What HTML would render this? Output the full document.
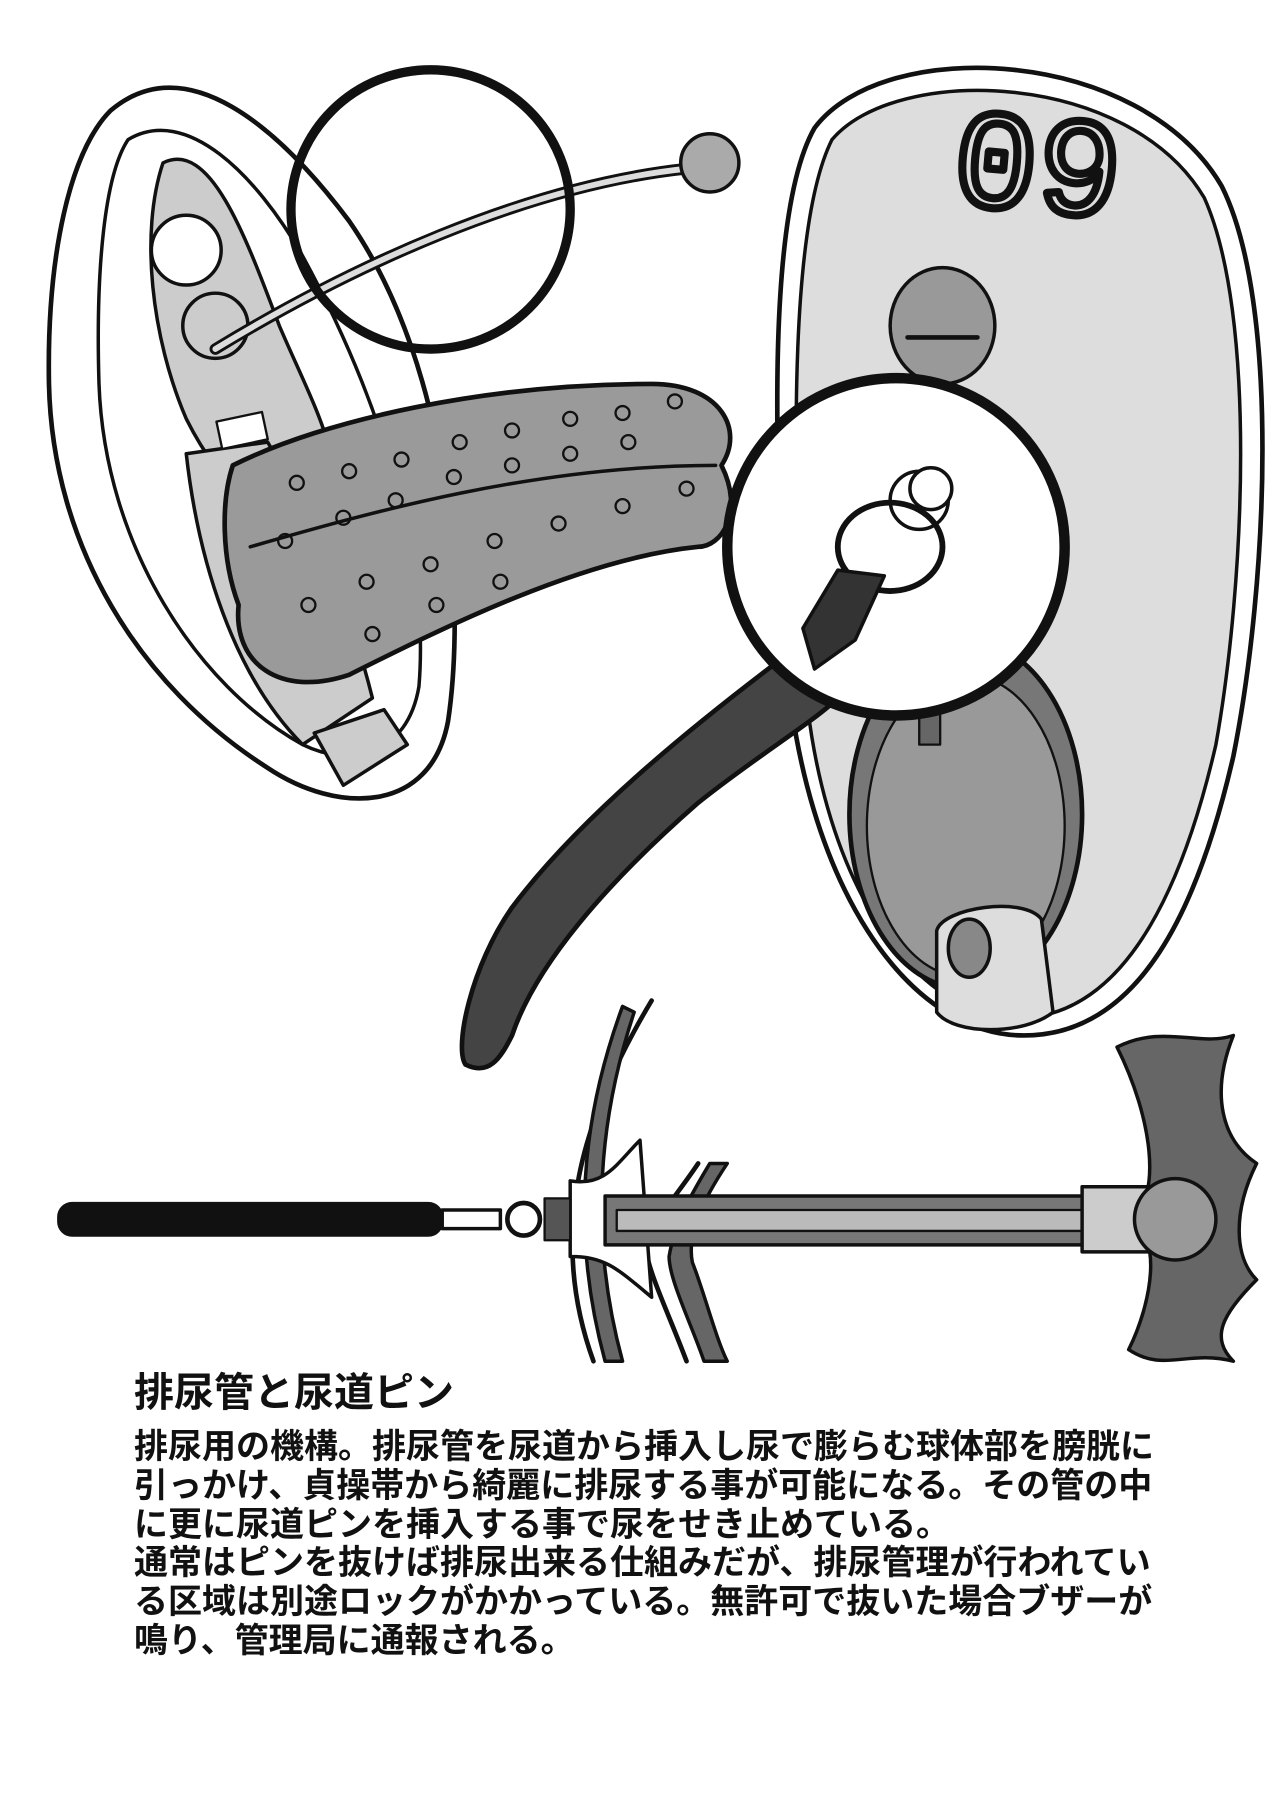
<!DOCTYPE html>
<html><head><meta charset="utf-8"><style>
html,body{margin:0;padding:0;background:#fff;}
body{width:1280px;height:1808px;position:relative;overflow:hidden;}
svg{position:absolute;left:0;top:0;}
.t{position:absolute;left:134px;font-family:"Liberation Sans","Noto Sans CJK JP",sans-serif;font-weight:bold;color:#111;white-space:nowrap;}
.title{top:1360px;font-size:40px;}
.body{top:1428px;font-size:34px;line-height:38.8px;}
</style></head><body>
<svg width="1280" height="1808" viewBox="0 0 1100 1554">
<g stroke="#111" stroke-linejoin="round" stroke-linecap="round">
<path d="M95,95 C160,40 240,110 300,190 C390,320 400,520 385,620 C370,700 290,700 230,660 C120,590 45,470 42,330 C40,220 60,130 95,95 Z" fill="#fff" stroke-width="4"/>
<path d="M110,120 C160,90 220,150 260,220 C320,330 370,470 360,590 C350,650 300,660 260,640 C170,590 90,470 85,330 C82,230 90,150 110,120 Z" fill="#fff" stroke-width="3"/>
<path d="M140,140 C180,120 210,200 240,280 C270,350 300,400 280,440 C240,470 190,420 160,360 C130,290 120,200 140,140 Z" fill="#ccc" stroke-width="3"/>
<circle cx="160" cy="215" r="30" fill="#fff" stroke-width="3"/>
<circle cx="185" cy="280" r="28" fill="#ccc" stroke-width="3"/>
<path d="M160,390 C170,480 200,580 260,640 L320,600 C300,520 270,450 230,380 Z" fill="#ccc" stroke-width="3"/>
<path d="M270,630 l60,-20 l20,30 l-55,35 z" fill="#ccc" stroke-width="3"/>
<path d="M185,300 C300,230 450,160 590,145" fill="none" stroke-width="10"/>
<path d="M185,300 C300,230 450,160 590,145" fill="none" stroke="#ddd" stroke-width="5"/>
<circle cx="610" cy="140" r="25" fill="#aaa" stroke-width="3"/>
<circle cx="370" cy="180" r="120" fill="none" stroke-width="8"/>
<path d="M200,400 C280,360 420,330 560,330 C620,330 640,370 620,400 C640,440 620,470 600,470 C500,480 380,540 300,580 C240,600 200,570 205,520 C190,480 190,430 200,400 Z" fill="#9a9a9a" stroke-width="4"/>
<path d="M215,470 C320,440 460,400 615,400" fill="none" stroke-width="3"/>
<g fill="none" stroke-width="2">
<circle cx="255" cy="415" r="6"/><circle cx="300" cy="405" r="6"/><circle cx="345" cy="395" r="6"/><circle cx="395" cy="380" r="6"/><circle cx="440" cy="370" r="6"/><circle cx="490" cy="360" r="6"/><circle cx="535" cy="355" r="6"/><circle cx="580" cy="345" r="6"/>
<circle cx="245" cy="465" r="6"/><circle cx="295" cy="445" r="6"/><circle cx="340" cy="430" r="6"/><circle cx="390" cy="410" r="6"/><circle cx="440" cy="400" r="6"/><circle cx="490" cy="390" r="6"/><circle cx="540" cy="380" r="6"/>
<circle cx="265" cy="520" r="6"/><circle cx="315" cy="500" r="6"/><circle cx="370" cy="485" r="6"/><circle cx="425" cy="465" r="6"/><circle cx="480" cy="450" r="6"/><circle cx="535" cy="435" r="6"/><circle cx="590" cy="420" r="6"/>
<circle cx="320" cy="545" r="6"/><circle cx="375" cy="520" r="6"/><circle cx="430" cy="500" r="6"/>
</g>
<rect x="188" y="358" width="40" height="24" fill="#fff" stroke-width="2" transform="rotate(-12 208 370)"/>
<path d="M700,110 C760,30 980,40 1050,160 C1100,260 1090,500 1060,650 C1030,780 980,890 880,890 C780,890 690,760 675,560 C665,380 660,180 700,110 Z" fill="#fff" stroke-width="4"/>
<path d="M715,120 C770,55 970,60 1035,170 C1080,270 1070,500 1045,640 C1015,770 965,870 880,875 C790,880 700,760 690,560 C680,380 680,190 715,120 Z" fill="#ddd" stroke-width="3"/>
<ellipse cx="810" cy="280" rx="45" ry="50" fill="#999" stroke-width="3"/>
<line x1="780" y1="290" x2="840" y2="290" stroke-width="4"/>
<ellipse cx="830" cy="700" rx="100" ry="150" fill="#777" stroke-width="4"/>
<ellipse cx="830" cy="710" rx="85" ry="130" fill="#999" stroke-width="2"/>
<rect x="790" y="580" width="18" height="60" fill="#666" stroke-width="2"/>
<path d="M805,800 C810,780 880,770 895,790 L905,870 C880,890 820,890 805,870 Z" fill="#ddd" stroke-width="3"/>
<ellipse cx="833" cy="815" rx="18" ry="25" fill="#888" stroke-width="3"/>
<text x="820" y="180" font-family="Liberation Mono,monospace" font-size="120" fill="none" stroke="#111" stroke-width="7" transform="rotate(5 880 140)">09</text>
<path d="M680,560 C600,620 500,700 440,780 C405,830 390,900 400,915 C420,925 430,910 440,890 C460,830 520,760 600,690 C650,650 700,620 720,600 Z" fill="#444" stroke-width="4"/>
<circle cx="770" cy="470" r="145" fill="#fff" stroke-width="9"/>
<circle cx="790" cy="430" r="25" fill="#fff" stroke-width="3"/>
<circle cx="800" cy="420" r="18" fill="#fff" stroke-width="3"/>
<ellipse cx="765" cy="470" rx="45" ry="38" fill="none" stroke-width="5"/>
<path d="M690,540 L720,490 L760,495 L735,550 L700,575 Z" fill="#333" stroke-width="3"/>
<path d="M560,860 C500,960 470,1060 510,1170" fill="none" stroke-width="4"/>
<path d="M545,870 C515,960 505,1060 535,1170 L520,1170 C490,1060 500,960 535,865 Z" fill="#666" stroke-width="3"/>
<path d="M600,1000 C580,1030 560,1050 555,1075 C560,1100 575,1130 590,1170" fill="none" stroke-width="4"/>
<path d="M625,1000 C605,1030 590,1060 595,1085 C605,1110 615,1150 625,1170 L605,1170 C595,1140 575,1100 575,1080 C580,1050 595,1025 610,1000 Z" fill="#666" stroke-width="3"/>
<path d="M490,1015 C520,1020 530,1000 550,980 L560,1115 C530,1090 520,1080 490,1080 Z" fill="#fff" stroke-width="3"/>
<rect x="520" y="1028" width="420" height="42" fill="#777" stroke-width="3"/>
<rect x="530" y="1040" width="400" height="18" fill="#bbb" stroke-width="2"/>
<path d="M960,900 C1000,880 1030,900 1060,890 C1040,940 1050,980 1080,1000 C1060,1040 1060,1080 1080,1100 C1050,1130 1040,1150 1060,1170 C1020,1160 1000,1180 970,1160 C990,1120 1000,1060 970,1050 C1000,1030 990,960 960,900 Z" fill="#666" stroke-width="3"/>
<rect x="930" y="1020" width="60" height="56" fill="#ccc" stroke-width="3"/>
<circle cx="1010" cy="1048" r="35" fill="#999" stroke-width="3"/>
<rect x="50" y="1034" width="330" height="28" rx="12" fill="#111" stroke-width="2"/>
<rect x="380" y="1040" width="50" height="16" fill="#fff" stroke-width="3"/>
<circle cx="450" cy="1048" r="14" fill="#fff" stroke-width="4"/>
<rect x="468" y="1030" width="22" height="36" fill="#555" stroke-width="2"/>
</g>
</svg>
<div class="t title">排尿管と尿道ピン</div>
<div class="t body">排尿用の機構。排尿管を尿道から挿入し尿で膨らむ球体部を膀胱に<br>引っかけ、貞操帯から綺麗に排尿する事が可能になる。その管の中<br>に更に尿道ピンを挿入する事で尿をせき止めている。<br>通常はピンを抜けば排尿出来る仕組みだが、排尿管理が行われてい<br>る区域は別途ロックがかかっている。無許可で抜いた場合ブザーが<br>鳴り、管理局に通報される。</div>
</body></html>
